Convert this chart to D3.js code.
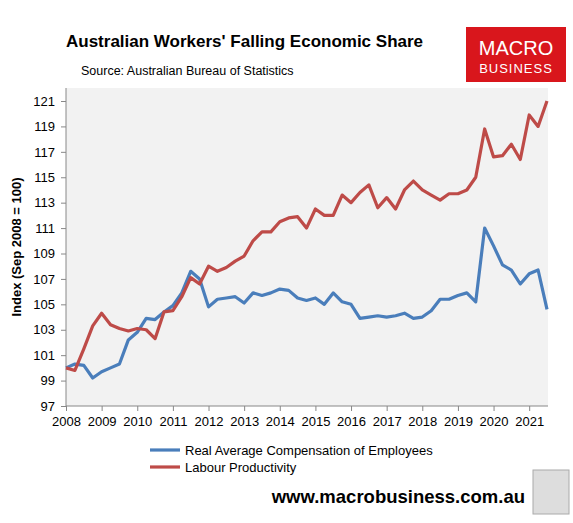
<!DOCTYPE html>
<html><head><meta charset="utf-8">
<script src="https://cdn.jsdelivr.net/npm/d3@7"></script>
<style>body{margin:0;background:#fff;font-family:Arial,"Liberation Sans",sans-serif}</style>
</head><body><div id="chart"></div>
<script>
// quarterly, Sep 2008 .. Jun 2021
const startYear = 2008;
const compensation = [100,100.3,100.2,99.2,99.7,100,100.3,102.2,102.8,103.9,
  103.8,104.4,104.9,105.9,107.6,107.0,104.8,105.4,105.5,105.6,
  105.1,105.9,105.7,105.9,106.2,106.1,105.5,105.3,105.5,105.0,
  105.9,105.2,105.0,103.9,104.0,104.1,104.0,104.1,104.3,103.9,
  104.0,104.5,105.4,105.4,105.7,105.9,105.2,111.0,109.6,108.1,
  107.7,106.6,107.4,107.7,104.6];
const productivity = [100,99.8,101.5,103.3,104.3,103.4,103.1,102.9,103.1,103.0,
  102.3,104.4,104.5,105.6,107.1,106.6,108.0,107.6,107.9,108.4,
  108.8,110.0,110.7,110.7,111.5,111.8,111.9,111.0,112.5,112.0,
  112.0,113.6,113.0,113.8,114.4,112.6,113.4,112.5,114.0,114.7,
  114.0,113.6,113.2,113.7,113.7,114.0,115.0,118.8,116.6,116.7,
  117.6,116.4,119.9,119.0,121.0];
const yTicks = [97,99,101,103,105,107,109,111,113,115,117,119,121];
const xTicks = d3.range(2008, 2022);
const seriesNames = ["Real Average Compensation of Employees", "Labour Productivity"];
const seriesColors = ["#4a7ebb", "#be4b48"];

const W = 573, H = 523;
const svg = d3.select("#chart").append("svg").attr("width", W).attr("height", H);

const pLeft = 66, pRight = 548, pTop = 88, pBottom = 406;
svg.append("rect").attr("x", pLeft).attr("y", pTop).attr("width", pRight - pLeft).attr("height", pBottom - pTop).attr("fill", "#f2f2f2");

const x = d3.scaleLinear().domain([2008, 2021.5]).range([pLeft, 547]);
const y = d3.scaleLinear().domain([97, 121]).range([pBottom, 101]);

svg.append("g").attr("transform", "translate(0," + pBottom + ")")
  .call(d3.axisBottom(x).tickValues(xTicks).tickFormat(d3.format("d")).tickSize(5).tickPadding(6))
  .call(g => g.select(".domain").attr("d", "M" + pLeft + ",0H" + pRight).attr("stroke", "#888"));
svg.append("g").attr("transform", "translate(" + pLeft + ",0)")
  .call(d3.axisLeft(y).tickValues(yTicks).tickSize(5).tickPadding(6))
  .call(g => g.select(".domain").attr("d", "M0," + pTop + "V" + pBottom).attr("stroke", "#888"));
svg.selectAll(".tick line").attr("stroke", "#888");
svg.selectAll(".tick text").attr("font-size", 13).attr("fill", "#000").attr("font-family", "Arial, Liberation Sans");

const line = d3.line().x((d, i) => x(startYear + i / 4)).y(d => y(d));
[compensation, productivity].forEach((s, k) => {
  svg.append("path").datum(s).attr("d", line).attr("fill", "none")
    .attr("stroke", seriesColors[k]).attr("stroke-width", 3.2).attr("stroke-linejoin", "round");
});

svg.append("text").attr("x", 66).attr("y", 47).attr("font-size", 17).attr("font-weight", "bold").text("Australian Workers' Falling Economic Share");
svg.append("text").attr("x", 81).attr("y", 75).attr("font-size", 12.5).text("Source: Australian Bureau of Statistics");
svg.append("text").attr("transform", "translate(21,247) rotate(-90)").attr("text-anchor", "middle")
  .attr("font-size", 13).attr("font-weight", "bold").text("Index (Sep 2008 = 100)");

// logo
svg.append("rect").attr("x", 466).attr("y", 27).attr("width", 100).attr("height", 55).attr("fill", "#d9161c");
svg.append("text").attr("x", 516).attr("y", 55).attr("text-anchor", "middle").attr("fill", "#fff").attr("font-size", 20).text("MACRO");
svg.append("text").attr("x", 516).attr("y", 73).attr("text-anchor", "middle").attr("fill", "#fff").attr("font-size", 13).attr("letter-spacing", 1).text("BUSINESS");

// legend
seriesNames.forEach((n, k) => {
  const ly = 450 + k * 17;
  svg.append("line").attr("x1", 150).attr("x2", 180).attr("y1", ly).attr("y2", ly).attr("stroke", seriesColors[k]).attr("stroke-width", 3.2);
  svg.append("text").attr("x", 185).attr("y", ly + 5).attr("font-size", 13).text(n);
});

svg.append("text").attr("x", 525).attr("y", 503).attr("text-anchor", "end").attr("font-size", 18.5).attr("font-weight", "bold").text("www.macrobusiness.com.au");
svg.append("rect").attr("x", 533).attr("y", 470).attr("width", 36).attr("height", 44).attr("fill", "#ddd").attr("stroke", "#aaa");
</script></body></html>
